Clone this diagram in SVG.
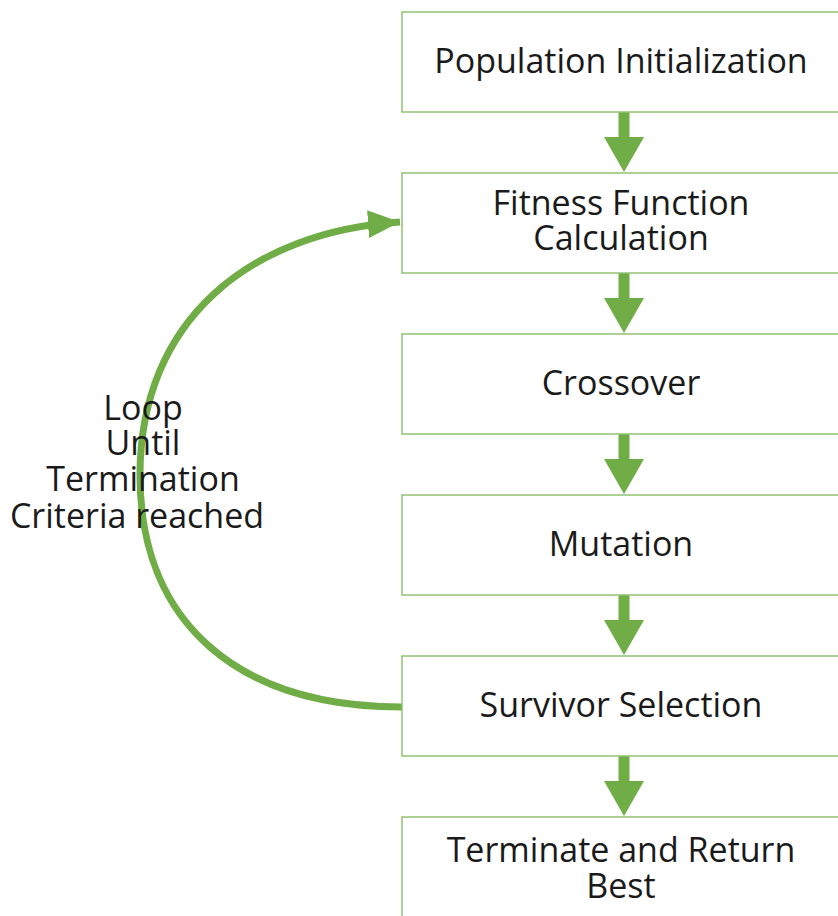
<svg xmlns="http://www.w3.org/2000/svg" width="838" height="916" viewBox="0 0 838 916">
<style>
.box{fill:#fff;stroke:#93c273;stroke-width:1.5}
.t{font-family:"Open Sans","Liberation Sans",sans-serif;font-size:34px;fill:#1a1a1a;text-anchor:middle}
.down{fill:#70ad47}
</style>
<defs>
<marker id="ah" markerUnits="userSpaceOnUse" markerWidth="40" markerHeight="40" refX="32" refY="14" orient="auto">
<path d="M0,0 L32,14 L0,28 Z" fill="#70ad47"/>
</marker>
<path id="da" d="M-5.5,0 H5.5 V25 H20 L0,60 L-20,25 H-5.5 Z"/>
</defs>
<rect width="838" height="916" fill="#fff"/>
<g id="connectors">
<use href="#da" class="down" x="624" y="112"/>
<use href="#da" class="down" x="624" y="273"/>
<use href="#da" class="down" x="624" y="434"/>
<use href="#da" class="down" x="624" y="595"/>
<use href="#da" class="down" x="624" y="756"/>
<path d="M402,707 C240,707 140,625 140,475 C140,320 250,232 400,222" fill="none" stroke="#70ad47" stroke-width="7" marker-end="url(#ah)"/>
</g>
<g id="n1"><rect class="box" x="402" y="12" width="440" height="100"/><text class="t" x="621" y="73">Population Initialization</text></g>
<g id="n2"><rect class="box" x="402" y="173" width="440" height="100"/><text class="t" x="621" y="215">Fitness Function</text><text class="t" x="621" y="250">Calculation</text></g>
<g id="n3"><rect class="box" x="402" y="334" width="440" height="100"/><text class="t" x="621" y="395">Crossover</text></g>
<g id="n4"><rect class="box" x="402" y="495" width="440" height="100"/><text class="t" x="621" y="556">Mutation</text></g>
<g id="n5"><rect class="box" x="402" y="656" width="440" height="100"/><text class="t" x="621" y="717">Survivor Selection</text></g>
<g id="n6"><rect class="box" x="402" y="817" width="440" height="110"/><text class="t" x="621" y="862">Terminate and Return</text><text class="t" x="621" y="898">Best</text></g>
<g id="loop-label">
<text class="t" x="143" y="420">Loop</text>
<text class="t" x="143" y="455">Until</text>
<text class="t" x="143" y="491">Termination</text>
<text class="t" x="137" y="528">Criteria reached</text>
</g>
</svg>
